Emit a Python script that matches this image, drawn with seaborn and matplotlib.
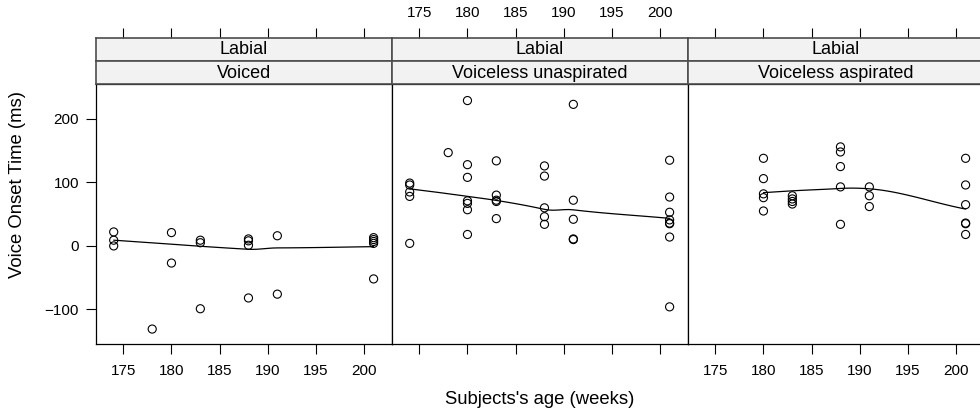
import numpy as np
import pandas as pd
import matplotlib
matplotlib.use("Agg")
import matplotlib.pyplot as plt
import seaborn as sns

sns.set_style("white")
plt.rcParams['font.family'] = ['Liberation Sans', 'DejaVu Sans']
plt.rcParams['text.color'] = 'black'
plt.rcParams['xtick.color'] = 'black'
plt.rcParams['ytick.color'] = 'black'
plt.rcParams['axes.labelcolor'] = 'black'

# ---- data ----
place_labels = ["Labial", "Labial", "Labial"]
voicing_labels = ["Voiced", "Voiceless unaspirated", "Voiceless aspirated"]

voiced_age = [174, 174, 174, 178, 180, 180, 183, 183, 183, 188, 188, 188, 188,
              191, 191, 201, 201, 201, 201, 201]
voiced_vot = [22, 9, 0, -131, 21, -27, 9, 5, -99, 11, 8, 1, -82,
              16, -76, 13, 10, 7, 4, -52]

unasp_age = [174, 174, 174, 174, 174, 178,
             180, 180, 180, 180, 180, 180, 180,
             183, 183, 183, 183, 183,
             188, 188, 188, 188, 188,
             191, 191, 191, 191, 191,
             201, 201, 201, 201, 201, 201, 201, 201]
unasp_vot = [99, 96, 85, 78, 4, 147,
             229, 128, 108, 71, 67, 57, 18,
             134, 80, 72, 70, 43,
             126, 110, 60, 46, 34,
             223, 72, 42, 11, 10,
             135, 77, 53, 41, 36, 35, 14, -96]

asp_age = [180, 180, 180, 180, 180,
           183, 183, 183, 183,
           188, 188, 188, 188, 188,
           191, 191, 191,
           201, 201, 201, 201, 201, 201]
asp_vot = [138, 106, 82, 76, 55,
           79, 74, 70, 66,
           156, 148, 125, 93, 34,
           93, 79, 62,
           138, 96, 65, 36, 35, 18]

x_ticks = [175, 180, 185, 190, 195, 200]
y_ticks = [-100, 0, 100, 200]

frames = []
for v, a, t in zip(voicing_labels, [voiced_age, unasp_age, asp_age],
                   [voiced_vot, unasp_vot, asp_vot]):
    frames.append(pd.DataFrame({"voicing": v, "age": a, "vot": t}))
df = pd.concat(frames, ignore_index=True)


def loess(x, y, xs, span=0.9, cell=0.2, iterations=4):
    """1-D robust loess (degree 1, family 'symmetric', kd-tree vertices
    with cubic Hermite interpolation, as in R's loess.smooth)."""
    x = np.asarray(x, float)
    y = np.asarray(y, float)
    n = len(x)
    q = int(np.floor(n * span))
    fc = int(np.floor(n * span * cell))
    xsrt = np.sort(x)
    lo, hi = xsrt[0], xsrt[-1]
    mu = 0.005 * max(hi - lo, 1e-10 * max(abs(lo), abs(hi)) + 1e-30)
    vlo, vhi = lo - mu, hi + mu
    verts = {vlo, vhi}

    def build(l, u, a, b):
        if u - l + 1 <= fc:
            return
        m = (l + u) // 2
        off = 0
        while True:
            if m + off >= u or m + off < l:
                break
            if xsrt[m + off] == xsrt[m + off + 1]:
                off = -off
                if off >= 0:
                    off += 1
            else:
                m = m + off
                break
        t = xsrt[m]
        if t == a or t == b:
            return
        verts.add(t)
        build(l, m, a, t)
        build(m + 1, u, t, b)

    build(0, n - 1, vlo, vhi)
    V = np.array(sorted(verts))

    def local(x0, rw):
        d = np.abs(x - x0)
        h = max(np.sort(d)[q - 1], 1e-12)
        u = d / h
        w = np.where(u < 1, (1 - u ** 3) ** 3, 0.0) * rw
        X = np.column_stack([np.ones(n), x - x0])
        A = X.T @ (w[:, None] * X)
        bb = X.T @ (w * y)
        beta = np.linalg.lstsq(A, bb, rcond=None)[0]
        return beta[0], beta[1]

    def surface(rw, pts):
        vals = np.array([local(v0, rw) for v0 in V])
        out = []
        for p in pts:
            k = min(max(np.searchsorted(V, p) - 1, 0), len(V) - 2)
            x0, x1 = V[k], V[k + 1]
            hh = x1 - x0
            t = (p - x0) / hh
            out.append((2 * t**3 - 3 * t**2 + 1) * vals[k, 0]
                       + (t**3 - 2 * t**2 + t) * hh * vals[k, 1]
                       + (-2 * t**3 + 3 * t**2) * vals[k + 1, 0]
                       + (t**3 - t**2) * hh * vals[k + 1, 1])
        return np.array(out)

    rw = np.ones(n)
    for j in range(iterations - 1):
        r = y - surface(rw, x)
        cmad = 6 * np.median(np.abs(r))
        ar = np.abs(r)
        rw = np.where(ar <= 0.001 * cmad, 1.0,
                      np.where(ar > 0.999 * cmad, 0.0,
                               (1 - (ar / cmad) ** 2) ** 2))
    return surface(rw, xs)


# ---- layout (pixels) ----
W, H = 980, 412
fig = plt.figure(figsize=(W / 100, H / 100), dpi=100)
left0, pw = 95.7, 296.0
top, bot = 84.3, 344.3
s1, s2 = 37.5, 61.0
xlim = (172.13, 202.88)
ylim = (-155, 254.6)
strip_bg = "#f2f2f2"
strip_edge = "#4d4d4d"
tick_fs = 11.0
lab_fs = 13.3
strip_fs = 13.0


def fb(x0, y0, x1, y1):
    return [x0 / W, 1 - y1 / H, (x1 - x0) / W, (y1 - y0) / H]


for i, v in enumerate(voicing_labels):
    x0 = left0 + i * pw
    ax = fig.add_axes(fb(x0, top, x0 + pw, bot))
    sub = df[df["voicing"] == v]
    sns.scatterplot(data=sub, x="age", y="vot", ax=ax, marker="o",
                    color="none", edgecolor="black", s=34, linewidth=0.8,
                    legend=False, zorder=3)
    xs = np.linspace(sub["age"].min(), sub["age"].max(), 50)
    ys = loess(sub["age"].values, sub["vot"].values, xs)
    sns.lineplot(x=xs, y=ys, ax=ax, color="black", linewidth=0.9,
                 sort=False, estimator=None)
    ax.set_xlim(*xlim)
    ax.set_ylim(*ylim)
    ax.set_xticks(x_ticks)
    ax.set_yticks(y_ticks)
    ax.set_xlabel("")
    ax.set_ylabel("")
    for sp in ax.spines.values():
        sp.set_visible(True)
        sp.set_color("black")
        sp.set_linewidth(0.9)
    ax.tick_params(axis="both", direction="out", length=7, width=0.8,
                   color="black", labelsize=tick_fs, pad=5)
    ax.tick_params(axis="x", bottom=True, labelbottom=(i != 1), top=False,
                   pad=7)
    ax.tick_params(axis="y", left=(i == 0), labelleft=(i == 0),
                   right=(i == 2), labelright=False)

    # strips
    sa = fig.add_axes(fb(x0, s1, x0 + pw, s2))
    sb = fig.add_axes(fb(x0, s2, x0 + pw, top))
    for s, txt in [(sa, place_labels[i]), (sb, v)]:
        s.set_facecolor(strip_bg)
        s.set_xlim(*xlim)
        s.set_yticks([])
        for sp in s.spines.values():
            sp.set_visible(True)
            sp.set_color(strip_edge)
            sp.set_linewidth(1.2)
        s.text(0.5, 0.48, txt, transform=s.transAxes, ha="center",
               va="center", fontsize=strip_fs, color="black")
    sb.set_xticks([])
    sa.set_xticks(x_ticks)
    sa.tick_params(axis="x", direction="out", length=7.5, width=0.8,
                   color="black", labelsize=tick_fs, pad=5,
                   top=True, labeltop=(i == 1), bottom=False,
                   labelbottom=False)

fig.text(18 / W, 1 - 185 / H, "Voice Onset Time (ms)", rotation=90,
         ha="center", va="center", fontsize=lab_fs)
fig.text(540 / W, 1 - 400 / H, "Subjects's age (weeks)", ha="center",
         va="center", fontsize=lab_fs)

fig.savefig("out.png", dpi=100, facecolor="white")
